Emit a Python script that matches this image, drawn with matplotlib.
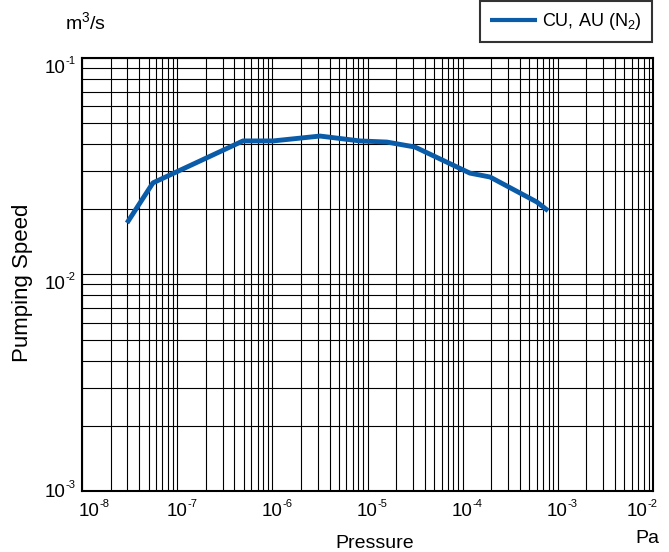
import matplotlib
matplotlib.use("Agg")
import matplotlib.pyplot as plt
from matplotlib.ticker import LogLocator, FixedLocator, NullFormatter
from matplotlib.transforms import offset_copy
import math

plt.rcParams['font.family'] = ['Liberation Sans', 'DejaVu Sans']
plt.rcParams['mathtext.fontset'] = 'custom'
plt.rcParams['mathtext.rm'] = 'Liberation Sans'
plt.rcParams['mathtext.it'] = 'Liberation Sans:italic'
plt.rcParams['mathtext.bf'] = 'Liberation Sans:bold'

pressure = [2.97e-8, 5.57e-8, 4.92e-7, 1.02e-6, 3.17e-6, 8.3e-6, 1.6e-5,
            3.15e-5, 1.19e-4, 1.94e-4, 6.04e-4, 7.9e-4]
speed = [0.0173, 0.0265, 0.0414, 0.0414, 0.0436, 0.0414, 0.0409,
         0.0388, 0.0294, 0.0282, 0.0216, 0.0197]
series_label = r"CU, AU (N$_2$)"
x_ticks = [1e-8, 1e-7, 1e-6, 1e-5, 1e-4, 1e-3, 1e-2]
y_ticks = [1e-3, 1e-2, 1e-1]

W, H = 669, 552
L, R, T, B = 82, 653, 58, 491
fig = plt.figure(figsize=(W / 100, H / 100), dpi=100)
ax = fig.add_axes([L / W, (H - B) / H, (R - L) / W, (B - T) / H])

line, = ax.plot(pressure, speed, color='#0a5ca8', lw=3.5, solid_capstyle='butt',
                solid_joinstyle='round', zorder=3)
ax.set_xscale('log')
ax.set_yscale('log')
ax.set_xlim(1e-8, 1e-2)
ax.set_ylim(1e-3, 1e-1)

ax.xaxis.set_major_locator(FixedLocator(x_ticks))
ax.yaxis.set_major_locator(FixedLocator(y_ticks))
ax.xaxis.set_minor_locator(LogLocator(base=10, subs=range(2, 10), numticks=100))
ax.yaxis.set_minor_locator(LogLocator(base=10, subs=range(2, 10), numticks=100))
ax.xaxis.set_major_formatter(NullFormatter())
ax.yaxis.set_major_formatter(NullFormatter())
ax.xaxis.set_minor_formatter(NullFormatter())
ax.yaxis.set_minor_formatter(NullFormatter())
ax.tick_params(which='both', length=0)

ax.grid(True, which='both', color='black', lw=0.8)
ax.set_axisbelow(True)
for s in ax.spines.values():
    s.set_linewidth(1.5)

BASE_FS = 13.5
EXP_FS = 8

# x tick labels: "10" + small exponent, split point near tick, kept inside labels area
xmin_l, xmax_l = math.log10(1e-8), math.log10(1e-2)
for v in x_ticks:
    px = L + (math.log10(v) - xmin_l) / (xmax_l - xmin_l) * (R - L)
    split = min(max(px + 10, 99), 648)
    dx = split - px
    tr_b = offset_copy(ax.get_xaxis_transform(), fig=fig, x=dx, y=-25, units='dots')
    tr_e = offset_copy(ax.get_xaxis_transform(), fig=fig, x=dx, y=-16, units='dots')
    ax.text(v, 0, "10", transform=tr_b, ha='right', va='baseline', fontsize=BASE_FS, clip_on=False)
    ax.text(v, 0, "-%d" % round(-math.log10(v)), transform=tr_e, ha='left', va='baseline',
            fontsize=EXP_FS, clip_on=False)

ymin_l, ymax_l = math.log10(1e-3), math.log10(1e-1)
for v in y_ticks:
    py = B - (math.log10(v) - ymin_l) / (ymax_l - ymin_l) * (B - T)
    base = min(py + 15, B + 6)
    dy = base - py
    tr_b = offset_copy(ax.get_yaxis_transform(), fig=fig, x=-17, y=-dy, units='dots')
    tr_e = offset_copy(ax.get_yaxis_transform(), fig=fig, x=-17, y=-dy + 9, units='dots')
    ax.text(0, v, "10", transform=tr_b, ha='right', va='baseline', fontsize=BASE_FS, clip_on=False)
    ax.text(0, v, "-%d" % round(-math.log10(v)), transform=tr_e, ha='left', va='baseline',
            fontsize=EXP_FS, clip_on=False)

fig.text(23 / W, 1 - 283 / H, "Pumping Speed", rotation=90, ha='center', va='center', fontsize=16)
fig.text(65 / W, 1 - 29 / H, r"m$^3$/s", ha='left', va='baseline', fontsize=14)
fig.text(375 / W, 1 - 548 / H, "Pressure", ha='center', va='baseline', fontsize=14)
fig.text(647 / W, 1 - 543 / H, "Pa", ha='center', va='baseline', fontsize=14)

leg = fig.legend([line], [series_label], loc='upper right',
                 bbox_to_anchor=(652 / W, 1 - 1 / H), fontsize=13,
                 frameon=True, fancybox=False, edgecolor='black',
                 handlelength=2.6, handletextpad=0.3, borderpad=0.55, borderaxespad=0)
leg.get_frame().set_linewidth(1.5)
leg.get_lines()[0].set_linewidth(3.0)

fig.savefig("out.png", dpi=100)
